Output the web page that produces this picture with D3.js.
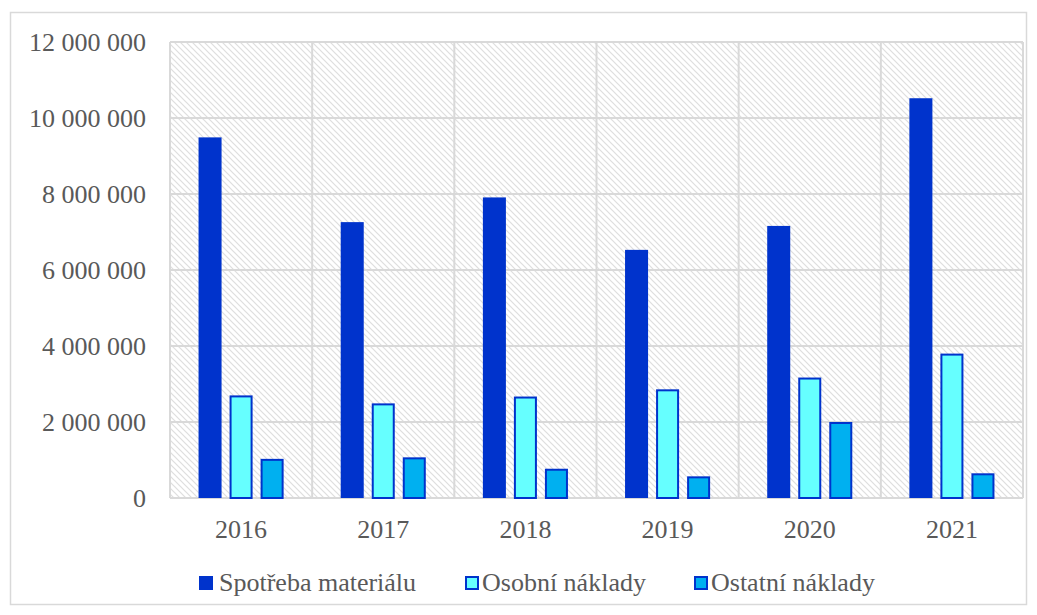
<!DOCTYPE html>
<html>
<head>
<meta charset="utf-8">
<script src="https://cdn.jsdelivr.net/npm/d3@7"></script>
<style>
  body { margin: 0; background: #fff; }
</style>
</head>
<body>
<div id="chart"></div>
<script>
const years = ['2016', '2017', '2018', '2019', '2020', '2021'];
const seriesNames = ['Spotřeba materiálu', 'Osobní náklady', 'Ostatní náklady'];
const material = [9490000, 7260000, 7910000, 6530000, 7160000, 10520000];
const personal = [2700000, 2490000, 2670000, 2860000, 3170000, 3800000];
const other = [1030000, 1070000, 770000, 570000, 2000000, 650000];
const yTicks = [0, 2000000, 4000000, 6000000, 8000000, 10000000, 12000000];

const fills = ['#0033cc', '#66ffff', '#00b0f0'];
const strokes = ['none', '#0033cc', '#0033cc'];
const font = '"Liberation Serif", "Times New Roman", serif';

const W = 1037, H = 615;
const plot = { left: 170, right: 1023, top: 42, bottom: 498 };

const svg = d3.select('#chart').append('svg')
  .attr('width', W).attr('height', H);

const defs = svg.append('defs');
const pat = defs.append('pattern')
  .attr('id', 'hatch')
  .attr('patternUnits', 'userSpaceOnUse')
  .attr('width', 6).attr('height', 6);
pat.append('rect').attr('width', 6).attr('height', 6).attr('fill', '#fff');
pat.append('path')
  .attr('d', 'M-1,-1 L7,7 M-1,5 L1,7 M5,-1 L7,1')
  .attr('stroke', '#dedede')
  .attr('stroke-width', 1.2);

// outer chart border
svg.append('rect')
  .attr('x', 10.5).attr('y', 12.5)
  .attr('width', 1016).attr('height', 592)
  .attr('fill', 'none').attr('stroke', '#d9d9d9').attr('stroke-width', 1.5);

const x = d3.scaleBand().domain(years).range([plot.left, plot.right]);
const y = d3.scaleLinear().domain([0, 12000000]).range([plot.bottom, plot.top]);

svg.append('rect')
  .attr('x', plot.left).attr('y', plot.top)
  .attr('width', plot.right - plot.left).attr('height', plot.bottom - plot.top)
  .attr('fill', 'url(#hatch)');

// horizontal gridlines
svg.append('g')
  .selectAll('line')
  .data(yTicks)
  .enter()
  .append('line')
  .attr('x1', plot.left).attr('x2', plot.right)
  .attr('y1', (d) => y(d)).attr('y2', (d) => y(d))
  .attr('stroke', '#d9d9d9').attr('stroke-width', 2);

// vertical gridlines between categories
const xEdges = years.map((d) => x(d)).concat([plot.right]);
svg.append('g')
  .selectAll('line')
  .data(xEdges)
  .enter()
  .append('line')
  .attr('x1', (d) => d).attr('x2', (d) => d)
  .attr('y1', plot.top).attr('y2', plot.bottom)
  .attr('stroke', '#d9d9d9').attr('stroke-width', 2);

const inner = d3.scaleBand()
  .domain(seriesNames)
  .range([0, x.bandwidth()])
  .paddingInner(0.258)
  .paddingOuter(0.92);

const allSeries = [material, personal, other];
allSeries.forEach((vals, si) => {
  svg.append('g')
    .selectAll('rect')
    .data(vals)
    .enter()
    .append('rect')
    .attr('x', (d, i) => x(years[i]) + inner(seriesNames[si]) + (si ? 1 : 0))
    .attr('y', (d) => y(d) + (si ? 1 : 0))
    .attr('width', inner.bandwidth() - (si ? 2 : 0))
    .attr('height', (d) => plot.bottom - y(d) - (si ? 1 : 0))
    .attr('fill', fills[si])
    .attr('stroke', strokes[si])
    .attr('stroke-width', 2);
});

// y axis labels
svg.append('g')
  .attr('transform', `translate(${plot.left - 24},0)`)
  .call(d3.axisLeft(y).tickValues(yTicks).tickSize(0).tickPadding(0)
    .tickFormat((d) => d3.format(',')(d).replace(/,/g, ' ')))
  .call((g) => g.select('.domain').remove())
  .selectAll('text')
  .attr('font-size', 26)
  .attr('dy', '0.33em')
  .style('font-family', font)
  .attr('fill', '#595959');

// x axis labels
svg.append('g')
  .attr('transform', `translate(0,${plot.bottom})`)
  .call(d3.axisBottom(x).tickSize(0).tickPadding(22))
  .call((g) => g.select('.domain').remove())
  .selectAll('text')
  .attr('font-size', 26)
  .style('font-family', font)
  .attr('fill', '#595959');

// legend
const legendX = [199, 465, 694];
const legend = svg.append('g');
seriesNames.forEach((name, i) => {
  const g = legend.append('g').attr('transform', `translate(${legendX[i]},576)`);
  g.append('rect')
    .attr('x', i ? 1 : 0).attr('y', i ? 1 : 0)
    .attr('width', i ? 12 : 14).attr('height', i ? 12 : 14)
    .attr('fill', fills[i])
    .attr('stroke', strokes[i]).attr('stroke-width', 2);
  g.append('text')
    .attr('x', i ? 17 : 20).attr('y', 15)
    .attr('font-size', 26)
    .style('font-family', font)
    .attr('fill', '#595959')
    .text(name);
});
</script>
</body>
</html>
